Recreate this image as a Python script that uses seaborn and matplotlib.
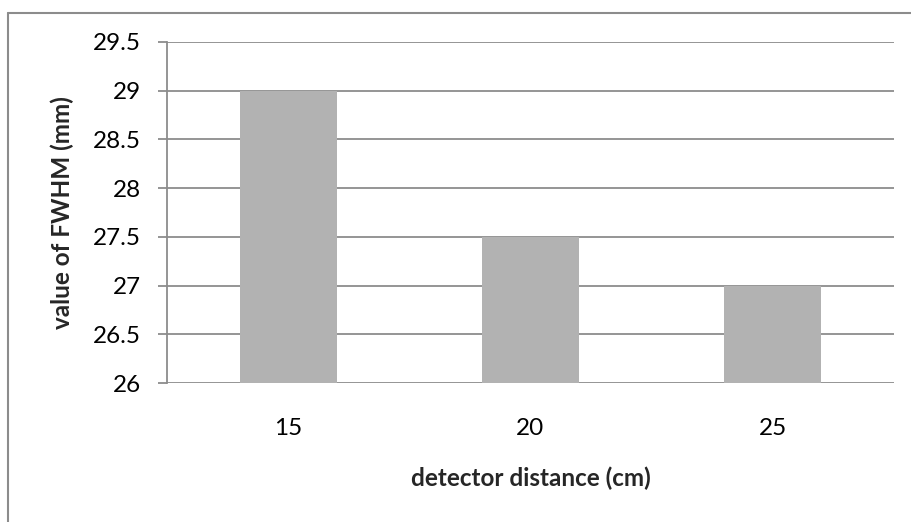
import matplotlib
matplotlib.use("Agg")
import matplotlib.pyplot as plt
from matplotlib.lines import Line2D
import seaborn as sns
import pandas as pd

categories = ["15", "20", "25"]
fwhm_values = [29.0, 27.5, 27.0]
y_ticks = [26, 26.5, 27, 27.5, 28, 28.5, 29, 29.5]
y_tick_labels = ["26", "26.5", "27", "27.5", "28", "28.5", "29", "29.5"]

sns.set_theme(style="white")
plt.rcParams['font.family'] = ['Lato', 'DejaVu Sans']

df = pd.DataFrame({"distance": categories, "fwhm": fwhm_values})

fig = plt.figure(figsize=(9.12, 5.22), dpi=100)
ax = fig.add_axes([167/912, 1-383/522, (894-167)/912, (383-42)/522])

sns.barplot(data=df, x="distance", y="fwhm", color="#B2B2B2", width=0.4,
            saturation=1, linewidth=0, ax=ax, zorder=2)

ax.set_ylim(26, 29.5)
ax.set_yticks(y_ticks)
ax.set_yticklabels(y_tick_labels)
ax.yaxis.grid(True, color="#8C8C8C", linewidth=1.3, zorder=0)
ax.set_axisbelow(True)

for s in ["top", "right", "bottom"]:
    ax.spines[s].set_visible(False)
ax.spines["left"].set_color("#8C8C8C")
ax.spines["left"].set_linewidth(1.3)

ax.tick_params(axis="y", which="major", left=True, length=6.5, width=1.3,
               color="#8C8C8C", labelsize=17.5, pad=12, labelcolor="black")
ax.tick_params(axis="x", bottom=False, labelsize=17.5, pad=19, labelcolor="black")

ax.set_xlabel("detector distance (cm)", fontsize=17.5, fontweight="bold", labelpad=20)
ax.set_ylabel("value of FWHM (mm)", fontsize=17.5, fontweight="bold", labelpad=14)

fig.add_artist(Line2D([8/912, 8/912], [0, 1-13/522], color="#8C8C8C", linewidth=1.5,
                      transform=fig.transFigure))
fig.add_artist(Line2D([8/912, 1], [1-13/522, 1-13/522], color="#8C8C8C", linewidth=1.5,
                      transform=fig.transFigure))

fig.savefig("out.png", dpi=100)
